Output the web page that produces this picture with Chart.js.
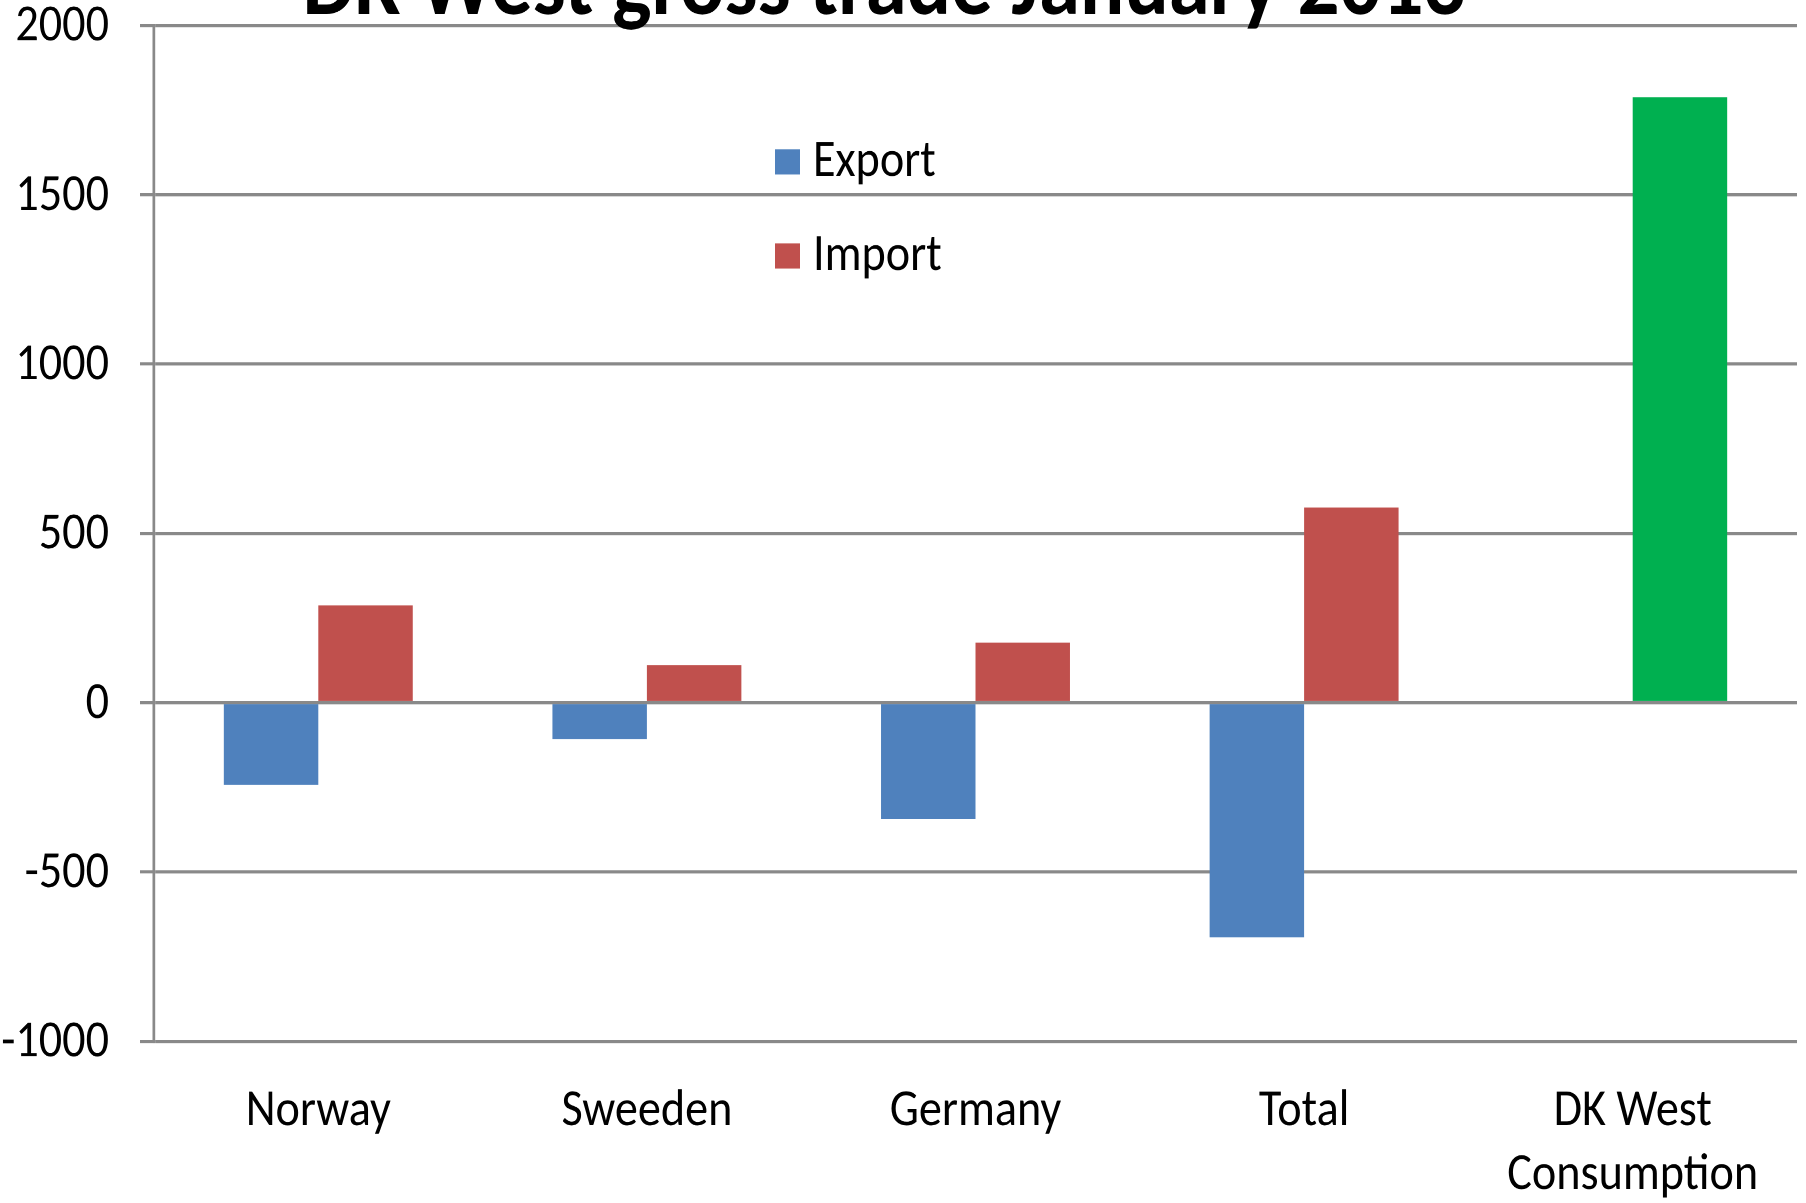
<!DOCTYPE html>
<html>
<head>
<meta charset="utf-8">
<title>DK West gross trade January 2013</title>
<script src="https://cdn.jsdelivr.net/npm/chart.js@4/dist/chart.umd.min.js"></script>
<style>
  html, body { margin: 0; padding: 0; background: #ffffff; overflow: hidden; }
  #frame {
    position: absolute; left: 0; top: 0;
    width: 1806px; height: 1074px;
    transform-origin: 0 0;
    transform: scaleY(1.12011);
  }
  #chart { display: block; }
</style>
</head>
<body>
<div id="frame"><canvas id="chart"></canvas></div>
<script>
// Monthly gross exchange for the DK West price area (MW)
const titleText = 'DK West gross trade January 2013';
const categories = ['Norway', 'Sweeden', 'Germany', 'Total', ['DK West', 'Consumption']];
const exportValues = [-243, -108, -343, -693, null];
const importValues = [287, 111, 177, 576, 1788];
const yTickValues = [-1000, -500, 0, 500, 1000, 1500, 2000];

const exportColor = '#4F81BD';
const importColors = ['#C0504D', '#C0504D', '#C0504D', '#C0504D', '#00B050'];

const FAMILY = 'Carlito, Calibri, Lato, sans-serif';

// Pick a font size whose rendered width matches a target width
function fitSize(text, targetWidth, weight) {
  const c = document.createElement('canvas').getContext('2d');
  c.font = (weight || 'normal') + ' 100px ' + FAMILY;
  return 100 * targetWidth / c.measureText(text).width;
}
const labelSize = fitSize('Consumption', 251);
const titleSize = fitSize(titleText, 1163, 'bold');

const labelFont = { family: FAMILY, size: labelSize, lineHeight: 1.23 };

// Title sits partly above the plot, so it is drawn outside the layout
const titlePlugin = {
  id: 'topTitle',
  afterDraw(chart) {
    const ctx = chart.ctx;
    ctx.save();
    ctx.font = 'bold ' + titleSize + 'px ' + FAMILY;
    ctx.fillStyle = '#000000';
    ctx.textAlign = 'center';
    ctx.textBaseline = 'alphabetic';
    ctx.fillText(titleText, 884, 12.5);
    ctx.restore();
  }
};

// Vertical legend floating inside the plot area
const floatLegend = {
  id: 'floatLegend',
  afterDraw(chart) {
    const ctx = chart.ctx;
    const x0 = 775, y0 = 144.5, step = 84, box = 25, boxH = 22.5;
    ctx.save();
    ctx.font = labelSize + 'px ' + FAMILY;
    ctx.textBaseline = 'middle';
    ctx.textAlign = 'left';
    chart.data.datasets.forEach((ds, i) => {
      const y = y0 + i * step;
      const col = Array.isArray(ds.backgroundColor) ? ds.backgroundColor[0] : ds.backgroundColor;
      ctx.fillStyle = col;
      ctx.fillRect(x0, y - boxH / 2, box, boxH);
      ctx.fillStyle = '#000000';
      ctx.fillText(ds.label, x0 + 38, y + 1);
    });
    ctx.restore();
  }
};

new Chart(document.getElementById('chart'), {
  type: 'bar',
  data: {
    labels: categories,
    datasets: [
      { label: 'Export', data: exportValues, backgroundColor: exportColor, borderWidth: 0 },
      { label: 'Import', data: importValues, backgroundColor: importColors, borderWidth: 0 }
    ]
  },
  options: {
    animation: false,
    responsive: true,
    maintainAspectRatio: false,
    devicePixelRatio: 2,
    categoryPercentage: 0.575,
    barPercentage: 1.0,
    layout: { padding: { top: 22.6, right: 9, left: 0, bottom: 0 } },
    plugins: {
      legend: { display: false },
      title: { display: false },
      tooltip: { enabled: false }
    },
    scales: {
      x: {
        grid: { display: false },
        border: { display: false },
        ticks: { font: labelFont, color: '#000000', padding: 27, maxRotation: 0, autoSkip: false },
        afterFit(scale) { scale.height = 144.4; }
      },
      y: {
        min: -1000,
        max: 2000,
        afterBuildTicks(scale) { scale.ticks = yTickValues.map(v => ({ value: v })); },
        ticks: { font: labelFont, color: '#000000', padding: 31, labelOffset: 2, callback: v => String(v) },
        grid: { color: '#898989', lineWidth: 2.7, tickLength: 14, drawTicks: true },
        border: { display: true, color: '#898989', width: 2.7 },
        afterFit(scale) { scale.width = 154; scale.paddingTop = 0; scale.paddingBottom = 0; }
      }
    }
  },
  plugins: [titlePlugin, floatLegend]
});
</script>
</body>
</html>
